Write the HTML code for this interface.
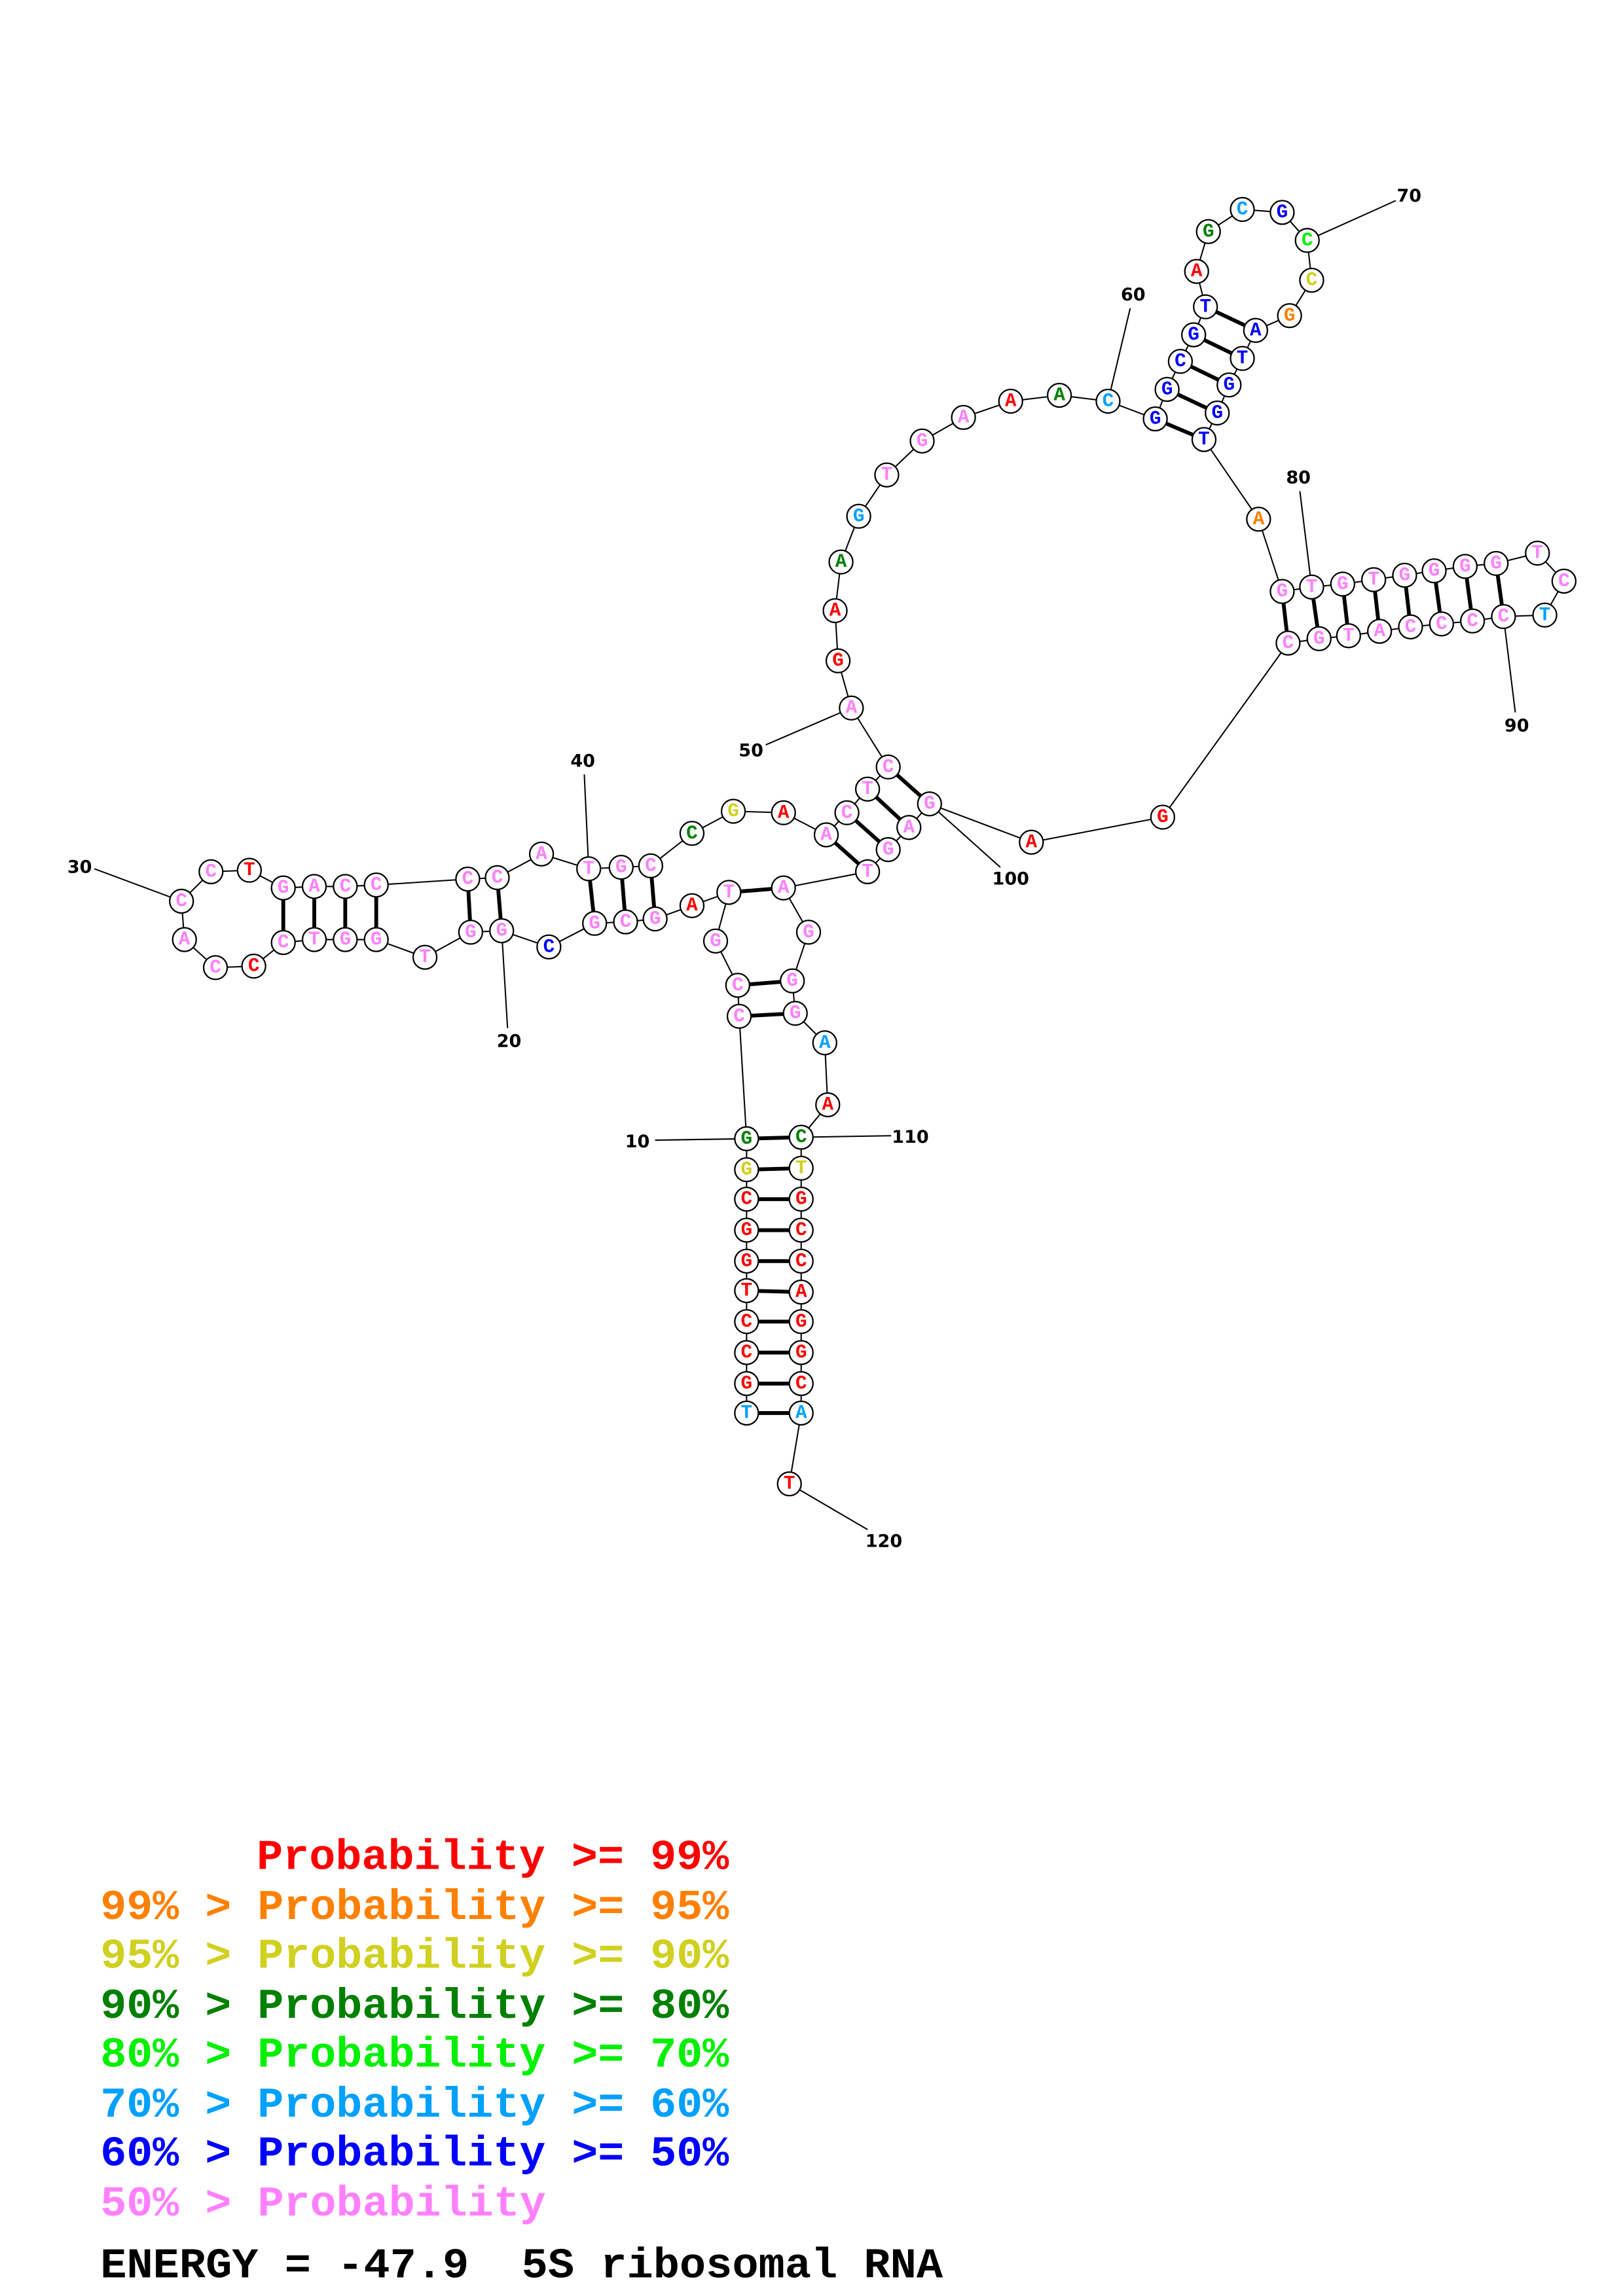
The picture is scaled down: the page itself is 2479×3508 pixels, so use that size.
<!DOCTYPE html>
<html><head><meta charset="utf-8"><style>
html,body{margin:0;padding:0;background:#fff;}
svg{display:block;}
.n circle{fill:#fff;stroke:#000;stroke-width:1;}
.n text{font-family:"Liberation Mono",monospace;font-weight:bold;font-size:13px;text-anchor:middle;dominant-baseline:central;}
.lb{font-family:"DejaVu Sans","Liberation Sans",sans-serif;font-weight:bold;font-size:12px;text-anchor:middle;dominant-baseline:central;fill:#000;}
.lg{font-family:"Liberation Mono",monospace;font-weight:bold;font-size:29px;}
.r{fill:#ff0000}.o{fill:#ff8000}.y{fill:#d0d020}.d{fill:#008000}.g{fill:#00f000}.c{fill:#00a0ff}.b{fill:#0000ff}.p{fill:#ff80ff}
</style></head><body>
<svg width="2479" height="3508" viewBox="0 0 1100 1556.6" xmlns="http://www.w3.org/2000/svg">
<rect width="1100" height="1557" fill="#fff"/>
<!-- backbone -->
<polyline fill="none" stroke="#000" stroke-width="0.9" points="506,958 506,938 506,917 506,896 506,875 506,855 506,834 506,813 506,793 506,772 501,689 500,668 485,638 494,605 469,614 444,623 424,625 403,626 372,642 340,631 319,632 288,649 255,637 234,637 213,637 192,639 172,655 146,656 125,637 123,611 143,591 169,590 192,602 213,601 234,601 255,600 317,596 337,595 367,579 399,589 421,588 441,587 469,565 497,550 531,551 560,566 574,551 588,535 602,520 577,480 568,448 566,414 570,381 582,350 601,322 625,299 653,283 685,272 718,268 751,272 783,284 791,264 800,245 809,227 817,208 811,184 819,157 842,142 869,144 886,163 889,190 874,214 851,224 842,243 833,261 825,280 816,298 853,352 869,401 889,398 910,396 931,393 952,390 972,387 993,384 1014,382 1042,375 1060,394 1047,417 1019,418 998,421 977,423 956,425 935,428 914,431 894,433 873,436 788,554 699,571 630,545 616,561 602,576 588,591 531,602 548,632 537,665 539,687 559,707 561,749 543,771 543,792 543,813 543,834 543,855 543,876 543,896 543,917 543,938 543,958 535,1006"/>
<!-- pairs -->
<g stroke="#000" stroke-width="2.6">
<line x1="506" y1="958" x2="543" y2="958"/><line x1="506" y1="938" x2="543" y2="938"/><line x1="506" y1="917" x2="543" y2="917"/><line x1="506" y1="896" x2="543" y2="896"/><line x1="506" y1="875" x2="543" y2="876"/><line x1="506" y1="855" x2="543" y2="855"/><line x1="506" y1="834" x2="543" y2="834"/><line x1="506" y1="813" x2="543" y2="813"/><line x1="506" y1="793" x2="543" y2="792"/><line x1="506" y1="772" x2="543" y2="771"/>
<line x1="501" y1="689" x2="539" y2="687"/><line x1="500" y1="668" x2="537" y2="665"/><line x1="494" y1="605" x2="531" y2="602"/>
<line x1="403" y1="626" x2="399" y2="589"/><line x1="424" y1="625" x2="421" y2="588"/><line x1="444" y1="623" x2="441" y2="587"/>
<line x1="340" y1="631" x2="337" y2="595"/><line x1="319" y1="632" x2="317" y2="596"/>
<line x1="255" y1="637" x2="255" y2="600"/><line x1="234" y1="637" x2="234" y2="601"/><line x1="213" y1="637" x2="213" y2="601"/><line x1="192" y1="639" x2="192" y2="602"/>
<line x1="560" y1="566" x2="588" y2="591"/><line x1="574" y1="551" x2="602" y2="576"/><line x1="588" y1="535" x2="616" y2="561"/><line x1="602" y1="520" x2="630" y2="545"/>
<line x1="783" y1="284" x2="816" y2="298"/><line x1="791" y1="264" x2="825" y2="280"/><line x1="800" y1="245" x2="833" y2="261"/><line x1="809" y1="227" x2="842" y2="243"/><line x1="817" y1="208" x2="851" y2="224"/>
<line x1="869" y1="401" x2="873" y2="436"/><line x1="889" y1="398" x2="894" y2="433"/><line x1="910" y1="396" x2="914" y2="431"/><line x1="931" y1="393" x2="935" y2="428"/><line x1="952" y1="390" x2="956" y2="425"/><line x1="972" y1="387" x2="977" y2="423"/><line x1="993" y1="384" x2="998" y2="421"/><line x1="1014" y1="382" x2="1019" y2="418"/>
</g>
<!-- label ticks -->
<g stroke="#000" stroke-width="0.9">
<line x1="506" y1="772" x2="444" y2="773"/><line x1="340" y1="631" x2="344" y2="697"/><line x1="123" y1="611" x2="64" y2="589"/><line x1="399" y1="589" x2="396" y2="525"/><line x1="577" y1="480" x2="519" y2="505"/><line x1="751" y1="272" x2="766" y2="209"/><line x1="886" y1="163" x2="946" y2="136"/><line x1="889" y1="398" x2="881" y2="333"/><line x1="1019" y1="418" x2="1027" y2="483"/><line x1="630" y1="545" x2="678" y2="588"/><line x1="543" y1="771" x2="604" y2="770"/><line x1="535" y1="1006" x2="588" y2="1037"/>
</g>
<g>
<text class="lb" x="432" y="774">10</text><text class="lb" x="345" y="706">20</text><text class="lb" x="54" y="588">30</text><text class="lb" x="395" y="516">40</text><text class="lb" x="509" y="509">50</text><text class="lb" x="768" y="200">60</text><text class="lb" x="955" y="133">70</text><text class="lb" x="880" y="324">80</text><text class="lb" x="1028" y="492">90</text><text class="lb" x="685" y="596">100</text><text class="lb" x="617" y="771">110</text><text class="lb" x="599" y="1045">120</text>
</g>
<!-- nodes -->
<g class="n">
<g transform="translate(506,958)"><circle r="8"/><text class="c">T</text></g>
<g transform="translate(506,938)"><circle r="8"/><text class="r">G</text></g>
<g transform="translate(506,917)"><circle r="8"/><text class="r">C</text></g>
<g transform="translate(506,896)"><circle r="8"/><text class="r">C</text></g>
<g transform="translate(506,875)"><circle r="8"/><text class="r">T</text></g>
<g transform="translate(506,855)"><circle r="8"/><text class="r">G</text></g>
<g transform="translate(506,834)"><circle r="8"/><text class="r">G</text></g>
<g transform="translate(506,813)"><circle r="8"/><text class="r">C</text></g>
<g transform="translate(506,793)"><circle r="8"/><text class="y">G</text></g>
<g transform="translate(506,772)"><circle r="8"/><text class="d">G</text></g>
<g transform="translate(501,689)"><circle r="8"/><text class="p">C</text></g>
<g transform="translate(500,668)"><circle r="8"/><text class="p">C</text></g>
<g transform="translate(485,638)"><circle r="8"/><text class="p">G</text></g>
<g transform="translate(494,605)"><circle r="8"/><text class="p">T</text></g>
<g transform="translate(469,614)"><circle r="8"/><text class="r">A</text></g>
<g transform="translate(444,623)"><circle r="8"/><text class="p">G</text></g>
<g transform="translate(424,625)"><circle r="8"/><text class="p">C</text></g>
<g transform="translate(403,626)"><circle r="8"/><text class="p">G</text></g>
<g transform="translate(372,642)"><circle r="8"/><text class="b">C</text></g>
<g transform="translate(340,631)"><circle r="8"/><text class="p">G</text></g>
<g transform="translate(319,632)"><circle r="8"/><text class="p">G</text></g>
<g transform="translate(288,649)"><circle r="8"/><text class="p">T</text></g>
<g transform="translate(255,637)"><circle r="8"/><text class="p">G</text></g>
<g transform="translate(234,637)"><circle r="8"/><text class="p">G</text></g>
<g transform="translate(213,637)"><circle r="8"/><text class="p">T</text></g>
<g transform="translate(192,639)"><circle r="8"/><text class="p">C</text></g>
<g transform="translate(172,655)"><circle r="8"/><text class="r">C</text></g>
<g transform="translate(146,656)"><circle r="8"/><text class="p">C</text></g>
<g transform="translate(125,637)"><circle r="8"/><text class="p">A</text></g>
<g transform="translate(123,611)"><circle r="8"/><text class="p">C</text></g>
<g transform="translate(143,591)"><circle r="8"/><text class="p">C</text></g>
<g transform="translate(169,590)"><circle r="8"/><text class="r">T</text></g>
<g transform="translate(192,602)"><circle r="8"/><text class="p">G</text></g>
<g transform="translate(213,601)"><circle r="8"/><text class="p">A</text></g>
<g transform="translate(234,601)"><circle r="8"/><text class="p">C</text></g>
<g transform="translate(255,600)"><circle r="8"/><text class="p">C</text></g>
<g transform="translate(317,596)"><circle r="8"/><text class="p">C</text></g>
<g transform="translate(337,595)"><circle r="8"/><text class="p">C</text></g>
<g transform="translate(367,579)"><circle r="8"/><text class="p">A</text></g>
<g transform="translate(399,589)"><circle r="8"/><text class="p">T</text></g>
<g transform="translate(421,588)"><circle r="8"/><text class="p">G</text></g>
<g transform="translate(441,587)"><circle r="8"/><text class="p">C</text></g>
<g transform="translate(469,565)"><circle r="8"/><text class="d">C</text></g>
<g transform="translate(497,550)"><circle r="8"/><text class="y">G</text></g>
<g transform="translate(531,551)"><circle r="8"/><text class="r">A</text></g>
<g transform="translate(560,566)"><circle r="8"/><text class="p">A</text></g>
<g transform="translate(574,551)"><circle r="8"/><text class="p">C</text></g>
<g transform="translate(588,535)"><circle r="8"/><text class="p">T</text></g>
<g transform="translate(602,520)"><circle r="8"/><text class="p">C</text></g>
<g transform="translate(577,480)"><circle r="8"/><text class="p">A</text></g>
<g transform="translate(568,448)"><circle r="8"/><text class="r">G</text></g>
<g transform="translate(566,414)"><circle r="8"/><text class="r">A</text></g>
<g transform="translate(570,381)"><circle r="8"/><text class="d">A</text></g>
<g transform="translate(582,350)"><circle r="8"/><text class="c">G</text></g>
<g transform="translate(601,322)"><circle r="8"/><text class="p">T</text></g>
<g transform="translate(625,299)"><circle r="8"/><text class="p">G</text></g>
<g transform="translate(653,283)"><circle r="8"/><text class="p">A</text></g>
<g transform="translate(685,272)"><circle r="8"/><text class="r">A</text></g>
<g transform="translate(718,268)"><circle r="8"/><text class="d">A</text></g>
<g transform="translate(751,272)"><circle r="8"/><text class="c">C</text></g>
<g transform="translate(783,284)"><circle r="8"/><text class="b">G</text></g>
<g transform="translate(791,264)"><circle r="8"/><text class="b">G</text></g>
<g transform="translate(800,245)"><circle r="8"/><text class="b">C</text></g>
<g transform="translate(809,227)"><circle r="8"/><text class="b">G</text></g>
<g transform="translate(817,208)"><circle r="8"/><text class="b">T</text></g>
<g transform="translate(811,184)"><circle r="8"/><text class="r">A</text></g>
<g transform="translate(819,157)"><circle r="8"/><text class="d">G</text></g>
<g transform="translate(842,142)"><circle r="8"/><text class="c">C</text></g>
<g transform="translate(869,144)"><circle r="8"/><text class="b">G</text></g>
<g transform="translate(886,163)"><circle r="8"/><text class="g">C</text></g>
<g transform="translate(889,190)"><circle r="8"/><text class="y">C</text></g>
<g transform="translate(874,214)"><circle r="8"/><text class="o">G</text></g>
<g transform="translate(851,224)"><circle r="8"/><text class="b">A</text></g>
<g transform="translate(842,243)"><circle r="8"/><text class="b">T</text></g>
<g transform="translate(833,261)"><circle r="8"/><text class="b">G</text></g>
<g transform="translate(825,280)"><circle r="8"/><text class="b">G</text></g>
<g transform="translate(816,298)"><circle r="8"/><text class="b">T</text></g>
<g transform="translate(853,352)"><circle r="8"/><text class="o">A</text></g>
<g transform="translate(869,401)"><circle r="8"/><text class="p">G</text></g>
<g transform="translate(889,398)"><circle r="8"/><text class="p">T</text></g>
<g transform="translate(910,396)"><circle r="8"/><text class="p">G</text></g>
<g transform="translate(931,393)"><circle r="8"/><text class="p">T</text></g>
<g transform="translate(952,390)"><circle r="8"/><text class="p">G</text></g>
<g transform="translate(972,387)"><circle r="8"/><text class="p">G</text></g>
<g transform="translate(993,384)"><circle r="8"/><text class="p">G</text></g>
<g transform="translate(1014,382)"><circle r="8"/><text class="p">G</text></g>
<g transform="translate(1042,375)"><circle r="8"/><text class="p">T</text></g>
<g transform="translate(1060,394)"><circle r="8"/><text class="p">C</text></g>
<g transform="translate(1047,417)"><circle r="8"/><text class="c">T</text></g>
<g transform="translate(1019,418)"><circle r="8"/><text class="p">C</text></g>
<g transform="translate(998,421)"><circle r="8"/><text class="p">C</text></g>
<g transform="translate(977,423)"><circle r="8"/><text class="p">C</text></g>
<g transform="translate(956,425)"><circle r="8"/><text class="p">C</text></g>
<g transform="translate(935,428)"><circle r="8"/><text class="p">A</text></g>
<g transform="translate(914,431)"><circle r="8"/><text class="p">T</text></g>
<g transform="translate(894,433)"><circle r="8"/><text class="p">G</text></g>
<g transform="translate(873,436)"><circle r="8"/><text class="p">C</text></g>
<g transform="translate(788,554)"><circle r="8"/><text class="r">G</text></g>
<g transform="translate(699,571)"><circle r="8"/><text class="r">A</text></g>
<g transform="translate(630,545)"><circle r="8"/><text class="p">G</text></g>
<g transform="translate(616,561)"><circle r="8"/><text class="p">A</text></g>
<g transform="translate(602,576)"><circle r="8"/><text class="p">G</text></g>
<g transform="translate(588,591)"><circle r="8"/><text class="p">T</text></g>
<g transform="translate(531,602)"><circle r="8"/><text class="p">A</text></g>
<g transform="translate(548,632)"><circle r="8"/><text class="p">G</text></g>
<g transform="translate(537,665)"><circle r="8"/><text class="p">G</text></g>
<g transform="translate(539,687)"><circle r="8"/><text class="p">G</text></g>
<g transform="translate(559,707)"><circle r="8"/><text class="c">A</text></g>
<g transform="translate(561,749)"><circle r="8"/><text class="r">A</text></g>
<g transform="translate(543,771)"><circle r="8"/><text class="d">C</text></g>
<g transform="translate(543,792)"><circle r="8"/><text class="y">T</text></g>
<g transform="translate(543,813)"><circle r="8"/><text class="r">G</text></g>
<g transform="translate(543,834)"><circle r="8"/><text class="r">C</text></g>
<g transform="translate(543,855)"><circle r="8"/><text class="r">C</text></g>
<g transform="translate(543,876)"><circle r="8"/><text class="r">A</text></g>
<g transform="translate(543,896)"><circle r="8"/><text class="r">G</text></g>
<g transform="translate(543,917)"><circle r="8"/><text class="r">G</text></g>
<g transform="translate(543,938)"><circle r="8"/><text class="r">C</text></g>
<g transform="translate(543,958)"><circle r="8"/><text class="c">A</text></g>
<g transform="translate(535,1006)"><circle r="8"/><text class="r">T</text></g>
</g>
<!-- legend -->
<g class="lg">
<text x="174" y="1267" fill="#ff0000" textLength="320" lengthAdjust="spacingAndGlyphs">Probability &gt;= 99%</text>
<text x="68" y="1301" fill="#ff8000" textLength="426" lengthAdjust="spacingAndGlyphs" xml:space="preserve">99% &gt; Probability &gt;= 95%</text>
<text x="68" y="1334" fill="#d0d020" textLength="426" lengthAdjust="spacingAndGlyphs" xml:space="preserve">95% &gt; Probability &gt;= 90%</text>
<text x="68" y="1368" fill="#008000" textLength="426" lengthAdjust="spacingAndGlyphs" xml:space="preserve">90% &gt; Probability &gt;= 80%</text>
<text x="68" y="1401" fill="#00f000" textLength="426" lengthAdjust="spacingAndGlyphs" xml:space="preserve">80% &gt; Probability &gt;= 70%</text>
<text x="68" y="1435" fill="#00a0ff" textLength="426" lengthAdjust="spacingAndGlyphs" xml:space="preserve">70% &gt; Probability &gt;= 60%</text>
<text x="68" y="1468" fill="#0000ff" textLength="426" lengthAdjust="spacingAndGlyphs" xml:space="preserve">60% &gt; Probability &gt;= 50%</text>
<text x="68" y="1502" fill="#ff80ff" textLength="302" lengthAdjust="spacingAndGlyphs" xml:space="preserve">50% &gt; Probability</text>
<text x="68" y="1544" fill="#000" textLength="571" lengthAdjust="spacingAndGlyphs" xml:space="preserve">ENERGY = -47.9  5S ribosomal RNA</text>
</g>
</svg>
</body></html>
